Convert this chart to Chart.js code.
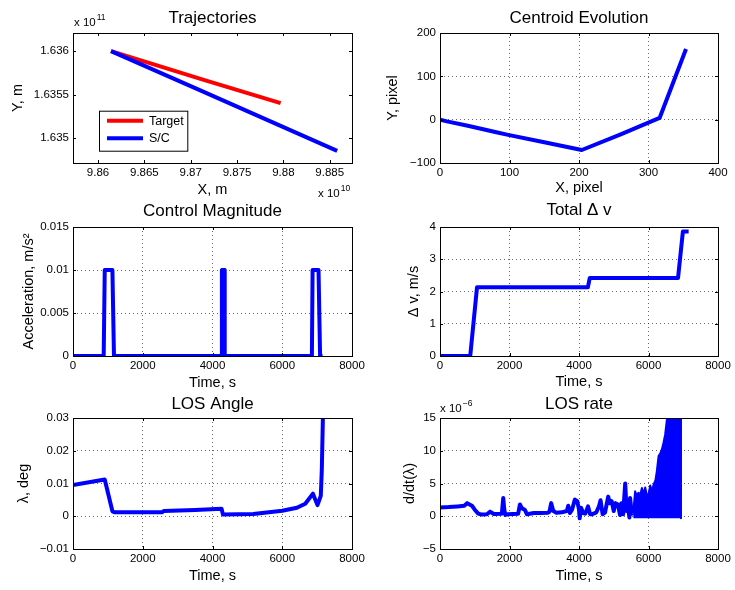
<!DOCTYPE html>
<html>
<head>
<meta charset="utf-8">
<script src="https://cdn.jsdelivr.net/npm/chart.js@4.4.1/dist/chart.umd.min.js"></script>
<style>
  html, body { margin: 0; padding: 0; background: #fff; }
  #fig { position: relative; width: 735px; height: 590px; }
  #fig canvas { position: absolute; left: 0; top: 0; }
</style>
</head>
<body>
<div id="fig">
  <canvas id="traj" width="735" height="590"></canvas>
  <canvas id="centroid" width="735" height="590"></canvas>
  <canvas id="control" width="735" height="590"></canvas>
  <canvas id="deltav" width="735" height="590"></canvas>
  <canvas id="losAngle" width="735" height="590"></canvas>
  <canvas id="losRate" width="735" height="590"></canvas>
</div>
<script>
// ---- data ----
// trajectories, x in 1e10 m, y in 1e11 m
const targetX = [9.8614, 9.8714, 9.8797];
const targetY = [1.63600, 1.63567, 1.63540];
const craftX = [9.8614, 9.8714, 9.8858];
const craftY = [1.63600, 1.63553, 1.63485];
const trajXTicks = [9.86, 9.865, 9.87, 9.875, 9.88, 9.885];
const trajYTicks = [1.635, 1.6355, 1.636];

// centroid, pixels
const centroidX = [0, 10, 40, 81, 98, 150, 204, 260, 316, 354];
const centroidY = [0, -4, -14, -29, -35, -52, -70, -34, 4, 163];

// control magnitude, m/s^2
const controlT = [0, 880, 910, 1130, 1175, 4250, 4270, 4330, 4350, 6850, 6870, 7040, 7085, 7155];
const controlA = [0, 0, 0.01, 0.01, 0, 0, 0.01, 0.01, 0, 0, 0.01, 0.01, 0, 0];

// total delta v, m/s
const deltaT = [0, 870, 1065, 4255, 4310, 6850, 6990, 7155];
const deltaV = [0, 0, 2.13, 2.13, 2.42, 2.42, 3.86, 3.86];

// LOS angle, deg
const losT = [0, 910, 1130, 1200, 2550, 2600, 3500, 4260, 4300, 5170, 6000, 6420, 6660, 6880, 7010, 7105, 7135, 7165, 7175];
const losV = [0.0095, 0.0112, 0.0015, 0.0012, 0.0012, 0.0016, 0.0019, 0.0023, 0.0005, 0.0007, 0.0017, 0.0026, 0.0038, 0.0069, 0.0034, 0.0062, 0.0144, 0.03, 0.04];

// LOS rate, 1e-6
const rateT = [0, 250, 500, 700, 780, 850, 920, 1000, 1100, 1200, 1350, 1440, 1550, 1780, 1820, 1850, 1880, 1950,
  2100, 2250, 2300, 2360, 2440, 2500, 2700, 2900, 3100, 3150, 3200, 3260, 3350, 3500, 3650, 3690, 3740, 3800,
  3880, 3950, 4000, 4020, 4060, 4120, 4180, 4260, 4320, 4380, 4500, 4580, 4620, 4680, 4750, 4840, 4890, 4940,
  5000, 5050, 5120, 5180, 5220, 5270, 5330, 5370, 5400, 5450, 5470, 5520, 5560];
const rateV = [1.35, 1.4, 1.5, 1.6, 2.0, 1.8, 1.6, 1.0, 0.4, 0.25, 0.3, 0.7, 0.35, 0.4, 2.8, 1.0, 0.2, 0.3,
  0.35, 0.4, 1.8, 1.2, 1.0, 0.3, 0.5, 0.5, 0.55, 0.7, 2.0, 0.8, 0.55, 0.6, 0.8, 1.6, 0.5, 1.0,
  2.55, 2.3, 1.0, -0.3, 1.3, 0.5, 0.4, 1.5, 0.3, 0.3, 0.6, 1.6, 2.45, 0.3, 0.6, 3.0, 2.0, 2.3,
  0.8, 2.0, 1.8, 0.2, 2.0, 0.3, 5.0, 0.8, 1.9, -0.2, 2.8, 0.4, 0.5];
// upper envelope of the dense oscillation at the end
const envT = [5560, 5615, 5665, 5710, 5760, 5810, 5860, 5905, 5950, 6000, 6050, 6100, 6145, 6200, 6240, 6290,
  6340, 6385, 6430, 6480, 6530, 6575, 6930, 6935];
const envV = [0.5, 3.8, 3.1, 3.6, 3.2, 4.3, 3.4, 4.4, 3.3, 3.3, 4.7, 3.8, 4.8, 5.5, 6.9, 9.2,
  9.6, 10.2, 11.2, 12.5, 14.8, 16, 16, -0.3];
const timeTicks = [0, 2000, 4000, 6000, 8000];

// ---- helpers ----
const FONT = '"Liberation Sans", Arial, Helvetica, sans-serif';
const BLUE = '#0000ff';
const RED = '#ff0000';
const YW = 70;  // fixed y axis width
const XH = 40;  // fixed x axis height

const pts = (xs, ys) => xs.map((x, i) => ({x, y: ys[i]}));
const fmt = v => (v < 0 ? '\u2212' + Math.abs(v) : String(v));

function line(label, xs, ys, color) {
  return {label, data: pts(xs, ys), borderColor: color, backgroundColor: color, borderWidth: 4,
    pointRadius: 0, tension: 0, fill: false, borderJoinStyle: 'round', clip: 0};
}

// matlab-like frame, inward ticks, exponent notes and inset legend
const matlab = {
  id: 'matlab',
  afterDraw(chart, args, o) {
    const {ctx, chartArea: a} = chart;
    const xs = chart.scales.x, ys = chart.scales.y;
    ctx.save();
    ctx.strokeStyle = '#000';
    ctx.lineWidth = 1;
    ctx.beginPath();
    xs.ticks.forEach(t => {
      const p = Math.round(xs.getPixelForValue(t.value)) + 0.5;
      ctx.moveTo(p, a.bottom); ctx.lineTo(p, a.bottom - 3);
      ctx.moveTo(p, a.top); ctx.lineTo(p, a.top + 3);
    });
    ys.ticks.forEach(t => {
      const p = Math.round(ys.getPixelForValue(t.value)) + 0.5;
      ctx.moveTo(a.left, p); ctx.lineTo(a.left + 3, p);
      ctx.moveTo(a.right, p); ctx.lineTo(a.right - 3, p);
    });
    ctx.stroke();
    ctx.strokeRect(Math.round(a.left) + 0.5, Math.round(a.top) + 0.5,
      Math.round(a.right - a.left), Math.round(a.bottom - a.top));

    ctx.fillStyle = '#000';
    ctx.textBaseline = 'alphabetic';
    ctx.textAlign = 'left';
    (o.notes || []).forEach(n => {
      ctx.font = '11.5px ' + FONT;
      ctx.fillText(n.text, n.x, n.y);
      const w = ctx.measureText(n.text).width;
      ctx.font = '8.5px ' + FONT;
      ctx.fillText(n.sup, n.x + w + 1, n.y - 6);
    });

    if (o.legendBox) {
      const [x1, y1, x2, y2] = o.legendBox;
      ctx.fillStyle = '#fff';
      ctx.fillRect(x1, y1, x2 - x1, y2 - y1);
      ctx.strokeRect(x1 + 0.5, y1 + 0.5, x2 - x1, y2 - y1);
      ctx.font = '12.5px ' + FONT;
      ctx.textBaseline = 'middle';
      chart.data.datasets.forEach((d, i) => {
        const yy = y1 + 10 + i * 17.6;
        ctx.strokeStyle = d.borderColor;
        ctx.lineWidth = 4;
        ctx.beginPath();
        ctx.moveTo(x1 + 8, yy); ctx.lineTo(x1 + 44, yy);
        ctx.stroke();
        ctx.fillStyle = '#000';
        ctx.fillText(d.label, x1 + 50, yy + 0.5);
      });
    }
    ctx.restore();
  }
};

function axis(isY, min, max, ticks, label, titleCenter, box, grid) {
  const lh = 14.5 * 1.2;
  const pad = isY
    ? {top: titleCenter - (box[0] - YW) - lh / 2, bottom: 0}
    : {top: 0, bottom: box[3] + XH - lh / 2 - titleCenter};
  return {
    type: 'linear', min, max,
    afterBuildTicks: s => { s.ticks = ticks.map(v => ({value: v})); },
    afterFit: s => { if (isY) s.width = YW; else s.height = XH; },
    grid: {display: grid, drawTicks: false, color: 'rgba(0,0,0,0.6)', lineWidth: 1},
    border: {display: false, dash: [1, 3]},
    ticks: {autoSkip: false, maxRotation: 0, padding: isY ? 4 : 3, color: '#000',
      font: {family: FONT, size: 11.5}, callback: fmt},
    title: {display: true, text: label, color: '#000', padding: pad,
      font: {family: FONT, size: 14.5, lineHeight: 1.2}}
  };
}

// box = [left, right, top, bottom] of the plot area
function panel(id, p) {
  const box = p.box;
  new Chart(document.getElementById(id), {
    type: 'line',
    data: {datasets: p.datasets},
    options: {
      responsive: false, animation: false, devicePixelRatio: 1,
      layout: {autoPadding: false, padding: {left: box[0] - YW, right: 735 - box[1],
        top: p.titleY - 10.2, bottom: 590 - box[3] - XH}},
      plugins: {
        legend: {display: false}, tooltip: {enabled: false},
        title: {display: true, text: p.title, fullSize: false, color: '#000',
          font: {family: FONT, size: 17, weight: 'normal', lineHeight: 1.2},
          padding: {top: 0, bottom: box[2] - p.titleY - 10.2}},
        matlab: {notes: p.notes || [], legendBox: p.legendBox || null}
      },
      scales: {
        x: axis(false, p.x[0], p.x[1], p.x[2], p.x[3], p.x[4], box, p.grid),
        y: axis(true, p.y[0], p.y[1], p.y[2], p.y[3], p.y[4], box, p.grid)
      }
    },
    plugins: [matlab]
  });
}

const target = line('Target', targetX, targetY, RED);
target.order = 1;
const craft = line('S/C', craftX, craftY, BLUE);
craft.order = 0;
panel('traj', {
  box: [73, 352, 33, 163], titleY: 18.8, title: 'Trajectories', grid: false,
  x: [9.8573, 9.8874, trajXTicks, 'X, m', 189.5],
  y: [1.63471, 1.63621, trajYTicks, 'Y, m', 17.6],
  datasets: [target, craft],
  notes: [{x: 74, y: 26, text: 'x 10', sup: '11'}, {x: 318, y: 197, text: 'x 10', sup: '10'}],
  legendBox: [99, 110.7, 187.3, 150.7]
});

panel('centroid', {
  box: [440, 718, 33, 163], titleY: 18.8, title: 'Centroid Evolution', grid: true,
  x: [0, 400, [0, 100, 200, 300, 400], 'X, pixel', 188.2],
  y: [-100, 200, [-100, 0, 100, 200], 'Y, pixel', 393.2],
  datasets: [line('centroid', centroidX, centroidY, BLUE)]
});

panel('control', {
  box: [73, 352, 227, 356], titleY: 211.2, title: 'Control Magnitude', grid: true,
  x: [0, 8000, timeTicks, 'Time, s', 382.8],
  y: [0, 0.015, [0, 0.005, 0.01, 0.015], 'Acceleration, m/s\u00b2', 28.8],
  datasets: [line('control', controlT, controlA, BLUE)]
});

panel('deltav', {
  box: [440, 718, 227, 356], titleY: 210, title: 'Total \u0394 v', grid: true,
  x: [0, 8000, timeTicks, 'Time, s', 382.2],
  y: [0, 4, [0, 1, 2, 3, 4], '\u0394 v, m/s', 414.2],
  datasets: [line('dv', deltaT, deltaV, BLUE)]
});

panel('losAngle', {
  box: [73, 352, 418, 549], titleY: 404.5, title: 'LOS Angle', grid: true,
  x: [0, 8000, timeTicks, 'Time, s', 575.5],
  y: [-0.01, 0.03, [-0.01, 0, 0.01, 0.02, 0.03], '\u03bb, deg', 24],
  datasets: [line('los', losT, losV, BLUE)]
});

const envelope = line('envelope', envT, envV, BLUE);
envelope.borderWidth = 2;
envelope.fill = {value: -0.3};
panel('losRate', {
  box: [440, 718, 418, 549], titleY: 404.5, title: 'LOS rate', grid: true,
  x: [0, 8000, timeTicks, 'Time, s', 575.5],
  y: [-5, 15, [-5, 0, 5, 10, 15], 'd/dt(\u03bb)', 409.5],
  datasets: [line('rate', rateT, rateV, BLUE), envelope],
  notes: [{x: 440, y: 412, text: 'x 10', sup: '\u22126'}]
});
</script>
</body>
</html>
